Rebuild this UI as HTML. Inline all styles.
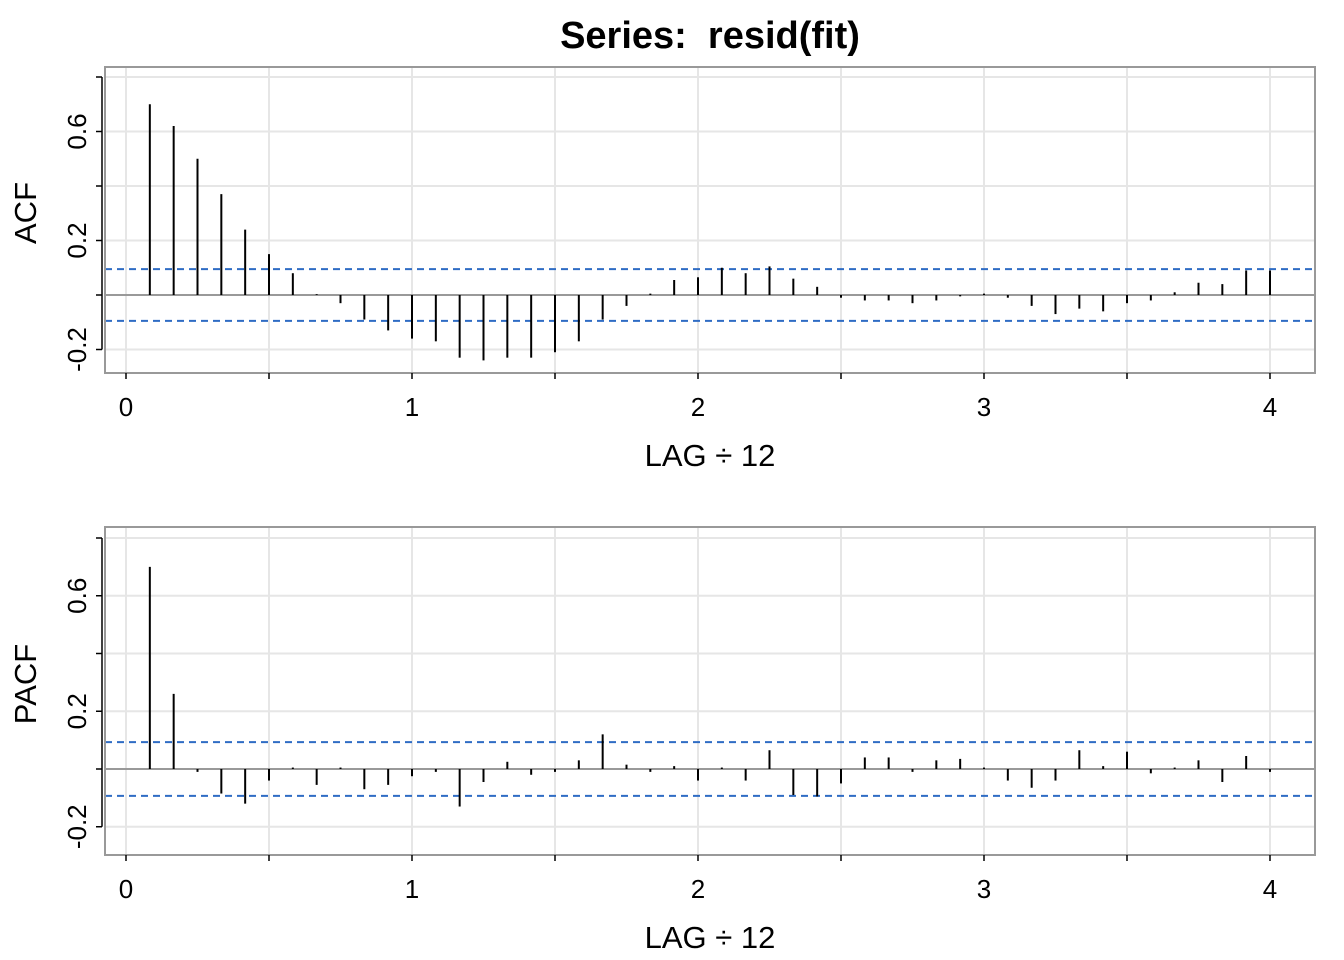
<!DOCTYPE html>
<html><head><meta charset="utf-8"><style>body{margin:0;background:#fff}svg{display:block}</style></head>
<body>
<svg id="s" width="1344" height="960" xmlns="http://www.w3.org/2000/svg" font-family="Liberation Sans, sans-serif"></svg>
<script>
const s=document.getElementById('s');let h='';
h+='<text x="710" y="48" text-anchor="middle" font-size="38" font-weight="bold">Series:&#160; resid(fit)</text>';
const acf=[0.70,0.62,0.50,0.37,0.24,0.15,0.08,0.003,-0.03,-0.09,-0.13,-0.16,-0.17,-0.23,-0.24,-0.23,-0.23,-0.21,-0.17,-0.09,-0.04,0.005,0.055,0.065,0.10,0.08,0.105,0.06,0.03,-0.01,-0.02,-0.02,-0.03,-0.02,-0.005,0.005,-0.01,-0.04,-0.07,-0.05,-0.06,-0.03,-0.02,0.01,0.045,0.04,0.09,0.09];
const pacf=[0.70,0.26,-0.01,-0.085,-0.12,-0.04,0.005,-0.055,0.005,-0.07,-0.055,-0.025,-0.01,-0.13,-0.045,0.025,-0.02,-0.01,0.03,0.12,0.015,-0.01,0.01,-0.04,0.005,-0.04,0.065,-0.09,-0.095,-0.05,0.04,0.04,-0.01,0.03,0.035,0.005,-0.04,-0.065,-0.04,0.065,0.01,0.06,-0.015,0.005,0.03,-0.045,0.045,-0.01];
function panel(top,bot,y0,ppu,data,ci,lab){
  const X=v=>126+v*286, Y=v=>y0-v*ppu;
  h+=`<rect x="105" y="${top}" width="1210" height="${bot-top}" fill="#fff"/>`;
  for(let v=0;v<=4.01;v+=0.5)h+=`<line x1="${X(v)}" x2="${X(v)}" y1="${top}" y2="${bot}" stroke="#e6e6e6" stroke-width="2"/>`;
  for(let v=-0.2;v<=0.81;v+=0.2){const y=Y(v);if(y>top&&y<bot)h+=`<line x1="105" x2="1315" y1="${y}" y2="${y}" stroke="#e6e6e6" stroke-width="2"/>`;}
  h+=`<line x1="105" x2="1315" y1="${y0}" y2="${y0}" stroke="#999" stroke-width="2"/>`;
  for(const c of [ci,-ci])h+=`<line x1="105" x2="1315" y1="${Y(c)}" y2="${Y(c)}" stroke="#2f6cc4" stroke-width="2" stroke-dasharray="7,5"/>`;
  data.forEach((v,i)=>{const x=X((i+1)/12);h+=`<line x1="${x}" x2="${x}" y1="${y0}" y2="${Y(v)}" stroke="#000" stroke-width="2"/>`;});
  h+=`<rect x="105" y="${top}" width="1210" height="${bot-top}" fill="none" stroke="#999" stroke-width="2"/>`;
  for(let v=-0.2;v<=0.81;v+=0.2){const y=Y(v);h+=`<line x1="96" x2="102" y1="${y}" y2="${y}" stroke="#000" stroke-width="1.5"/>`;}
  h+=`<line x1="102" x2="102" y1="${Y(0.8)}" y2="${Y(-0.2)}" stroke="#000" stroke-width="1.5"/>`;
  for(const v of [0.6,0.2,-0.2]){const y=Y(v);h+=`<text transform="translate(86,${y}) rotate(-90)" text-anchor="middle" font-size="26">${v==-0.2?'-0.2':v}</text>`;}
  h+=`<text transform="translate(36,${(top+bot)/2-7}) rotate(-90)" text-anchor="middle" font-size="31">${lab}</text>`;
  for(let v=0;v<=4.01;v+=0.5)h+=`<line x1="${X(v)}" x2="${X(v)}" y1="${bot}" y2="${bot+6}" stroke="#000" stroke-width="1.5"/>`;
  for(let v=0;v<=4;v++)h+=`<text x="${X(v)}" y="${bot+43}" text-anchor="middle" font-size="26">${v}</text>`;
  h+=`<text x="710" y="${bot+93}" text-anchor="middle" font-size="31">LAG ÷ 12</text>`;
}
panel(67,373,295,272.5,acf,0.095,'ACF');
panel(527,855,769,288.75,pacf,0.093,'PACF');
s.innerHTML=h;
</script>
</body></html>
